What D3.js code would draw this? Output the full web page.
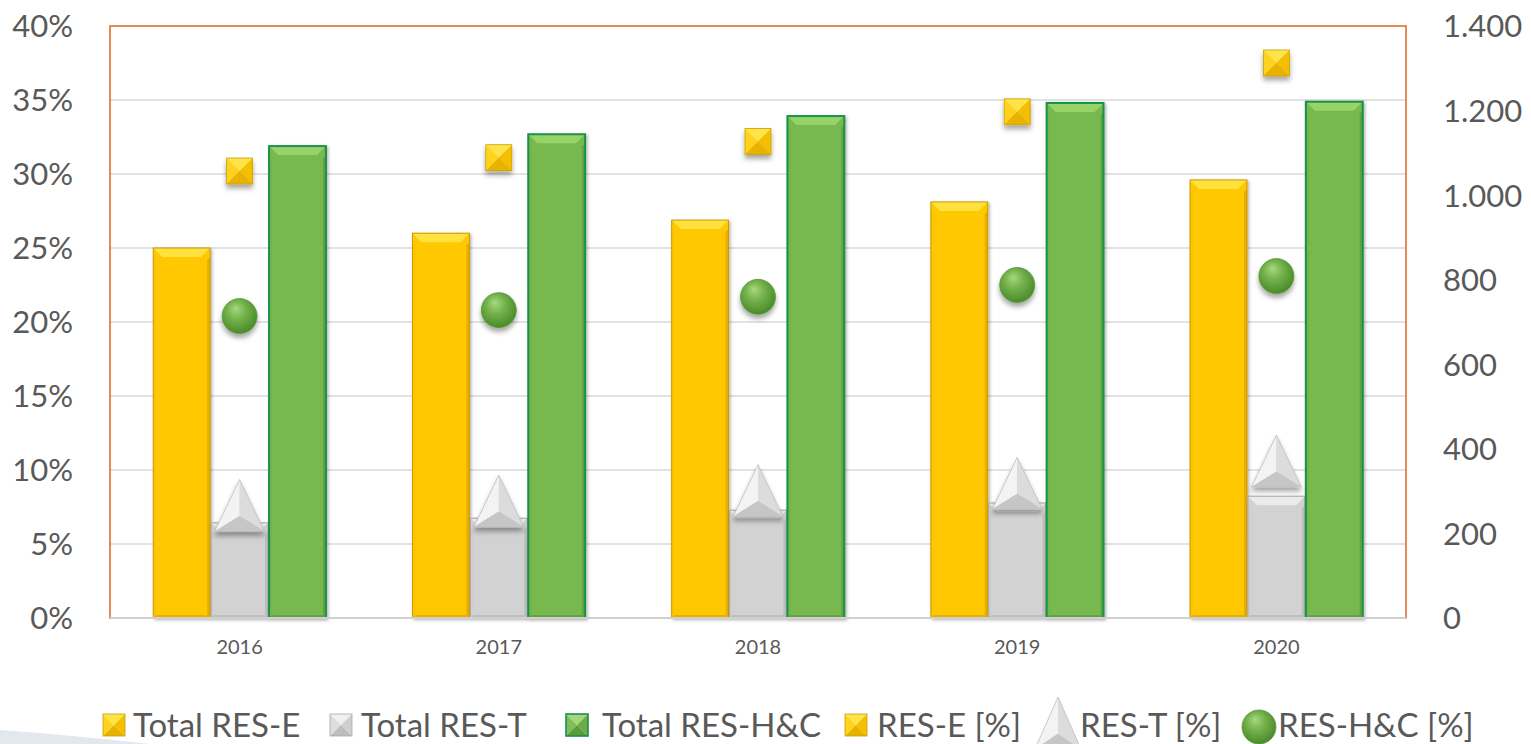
<!DOCTYPE html>
<html>
<head>
<meta charset="utf-8">
<script src="https://cdn.jsdelivr.net/npm/d3@7"></script>
<style>
  html, body { margin: 0; padding: 0; background: #ffffff; }
  svg { display: block; }
  text { font-family: Lato, "Open Sans", sans-serif; fill: #595959; }
</style>
</head>
<body>
<svg id="chart" width="1531" height="744"></svg>
<script>
// Renewable energy totals (right axis) and shares (left axis), 2016-2020
const years   = ["2016", "2017", "2018", "2019", "2020"];
const totalE  = [875, 910, 941, 984, 1036];
const totalT  = [225, 236, 255, 272, 288];
const totalHC = [1116, 1144, 1187, 1218, 1221];
const shareE  = [0.302, 0.311, 0.322, 0.342, 0.375];
const shareT  = [0.076, 0.079, 0.086, 0.091, 0.106];
const shareHC = [0.204, 0.208, 0.217, 0.225, 0.231];

const leftTicks  = [0, 0.05, 0.10, 0.15, 0.20, 0.25, 0.30, 0.35, 0.40];
const rightTicks = [0, 200, 400, 600, 800, 1000, 1200, 1400];
const legendLabels = ["Total RES-E", "Total RES-T", "Total RES-H&C", "RES-E [%]", "RES-T [%]", "RES-H&C [%]"];

const W = 1531, H = 744;
const margin = { top: 26, right: 125, bottom: 126, left: 110 };
const svg = d3.select("#chart");
const defs = svg.append("defs");

// soft shadows
const fBar = defs.append("filter").attr("id", "barShadow").attr("x", "-20%").attr("y", "-10%").attr("width", "140%").attr("height", "130%");
fBar.append("feDropShadow").attr("dx", 1.5).attr("dy", 1.5).attr("stdDeviation", 1.5).attr("flood-color", "#000").attr("flood-opacity", 0.3);
const fMark = defs.append("filter").attr("id", "markShadow").attr("x", "-40%").attr("y", "-40%").attr("width", "180%").attr("height", "200%");
fMark.append("feDropShadow").attr("dx", 0).attr("dy", 4).attr("stdDeviation", 2.5).attr("flood-color", "#000").attr("flood-opacity", 0.35);

const rg = defs.append("radialGradient").attr("id", "ballGreen").attr("cx", "45%").attr("cy", "40%").attr("r", "60%").attr("fx", "38%").attr("fy", "28%");
rg.append("stop").attr("offset", "0%").attr("stop-color", "#a8d882");
rg.append("stop").attr("offset", "45%").attr("stop-color", "#74b24b");
rg.append("stop").attr("offset", "100%").attr("stop-color", "#4a8a2a");

// bottom-left decorative swoosh
svg.append("path")
  .attr("d", "M0,730 Q70,735 150,744 L0,744 Z")
  .attr("fill", "#e3e7ee");

const x0 = d3.scaleBand().domain(years).range([margin.left, W - margin.right]).paddingInner(0.33).paddingOuter(0.165);
const series = ["E", "T", "HC"];
const x1 = d3.scaleBand().domain(series).range([0, x0.bandwidth()]).padding(0);
const yL = d3.scaleLinear().domain([0, 0.4]).range([H - margin.bottom, margin.top]);
const yR = d3.scaleLinear().domain([0, 1400]).range([H - margin.bottom, margin.top]);

const plotL = margin.left, plotR = W - margin.right, plotT = margin.top, plotB = H - margin.bottom;

// gridlines
svg.append("g").selectAll("line").data(leftTicks.filter(d => d > 0 && d < 0.4)).join("line")
  .attr("x1", plotL).attr("x2", plotR)
  .attr("y1", d => yL(d)).attr("y2", d => yL(d))
  .attr("stroke", "#d9d9d9").attr("stroke-width", 1.5);

// plot frame
svg.append("rect").attr("x", plotL).attr("y", plotT).attr("width", plotR - plotL).attr("height", plotB - plotT)
  .attr("fill", "none").attr("stroke", "#df6f2a").attr("stroke-width", 1.6);

// left axis
const axL = svg.append("g").attr("transform", `translate(${plotL},0)`)
  .call(d3.axisLeft(yL).tickValues(leftTicks).tickFormat(d3.format(".0%")).tickSize(0).tickPadding(37));
axL.select(".domain").remove();
axL.selectAll("text").attr("font-size", 31).attr("fill", "#595959").attr("dy", "0.35em");

// right axis with dot thousands separator
const loc = d3.formatLocale({ decimal: ",", thousands: ".", grouping: [3], currency: ["", ""] });
const axR = svg.append("g").attr("transform", `translate(${plotR},0)`)
  .call(d3.axisRight(yR).tickValues(rightTicks).tickFormat(loc.format(",")).tickSize(0).tickPadding(37));
axR.select(".domain").remove();
axR.selectAll("text").attr("font-size", 31).attr("fill", "#595959").attr("dy", "0.35em");

// bevelled bar
const barStyles = {
  E:  { base: "#ffc800", light: "#ffe23c", side: "#fcc500", dark: "#eaae00", stroke: "#c99a00", sw: 1 },
  T:  { base: "#d2d2d2", light: "#ebebeb", side: "#cfcfcf", dark: "#bdbdbd", stroke: "#a8a8a8", sw: 1 },
  HC: { base: "#77b84f", light: "#98d36a", side: "#73b44c", dark: "#62a23f", stroke: "#17924a", sw: 2 }
};
function bevelBar(g, x, y, w, h, s) {
  const b = Math.min(9, h / 2);
  const bs = 3;
  const grp = g.append("g").attr("filter", "url(#barShadow)");
  grp.append("rect").attr("x", x).attr("y", y).attr("width", w).attr("height", h).attr("fill", s.base);
  grp.append("polygon").attr("points", `${x},${y + b} ${x + bs},${y + b + bs} ${x + bs},${y + h - bs} ${x},${y + h}`).attr("fill", s.side);
  grp.append("polygon").attr("points", `${x + w},${y + b} ${x + w},${y + h} ${x + w - bs},${y + h - bs} ${x + w - bs},${y + b + bs}`).attr("fill", s.dark);
  grp.append("polygon").attr("points", `${x},${y + h} ${x + bs},${y + h - bs} ${x + w - bs},${y + h - bs} ${x + w},${y + h}`).attr("fill", s.dark);
  grp.append("polygon").attr("points", `${x},${y} ${x + w},${y} ${x + w - b},${y + b} ${x + b},${y + b}`).attr("fill", s.light);
  grp.append("rect").attr("x", x).attr("y", y).attr("width", w).attr("height", h)
    .attr("fill", "none").attr("stroke", s.stroke).attr("stroke-width", s.sw);
}

const barsG = svg.append("g");
const barData = { E: totalE, T: totalT, HC: totalHC };
years.forEach((yr, i) => {
  series.forEach(k => {
    const v = barData[k][i];
    const bx = x0(yr) + x1(k);
    bevelBar(barsG, bx + 0.5, yR(v), x1.bandwidth() - 1, yR(0) - yR(v), barStyles[k]);
  });
});

// category axis line and labels
svg.append("line").attr("x1", plotL).attr("x2", plotR).attr("y1", plotB).attr("y2", plotB)
  .attr("stroke", "#d0d0d0").attr("stroke-width", 2);
const axB = svg.append("g").attr("transform", `translate(0,${plotB})`)
  .call(d3.axisBottom(x0).tickSize(0).tickPadding(22));
axB.select(".domain").remove();
axB.selectAll("text").attr("font-size", 20).attr("fill", "#595959");

// marker shapes
function pyramidSquare(g, cx, cy, s, c, shadow) {
  const h = s / 2;
  const m = g.append("g").attr("transform", `translate(${cx},${cy})`);
  if (shadow) m.attr("filter", "url(#markShadow)");
  m.append("polygon").attr("points", `${-h},${-h} ${h},${-h} 0,0`).attr("fill", c[0]);
  m.append("polygon").attr("points", `${-h},${-h} 0,0 ${-h},${h}`).attr("fill", c[1]);
  m.append("polygon").attr("points", `${h},${-h} ${h},${h} 0,0`).attr("fill", c[2]);
  m.append("polygon").attr("points", `${-h},${h} 0,0 ${h},${h}`).attr("fill", c[3]);
  m.append("rect").attr("x", -h).attr("y", -h).attr("width", s).attr("height", s)
    .attr("fill", "none").attr("stroke", c[4]).attr("stroke-width", c[5]);
}
const yellowSq = ["#ffe447", "#ffd21c", "#f4bf00", "#e9b200", "#c9a000", 0.8];
const greySq   = ["#f0f0f0", "#dedede", "#cfcfcf", "#bdbdbd", "#a9a9a9", 0.8];
const greenSq  = ["#a3d77a", "#7fbf57", "#6cab45", "#5d9b3a", "#17924a", 1.6];

function triangleMarker(g, cx, cy, w, hgt, shadow) {
  const A = [0, -hgt / 2], B = [-w / 2, hgt / 2], C = [w / 2, hgt / 2], O = [0, hgt / 2 - hgt * 0.3];
  const m = g.append("g").attr("transform", `translate(${cx},${cy})`);
  if (shadow) m.attr("filter", "url(#markShadow)");
  const p = pts => pts.map(q => q.join(",")).join(" ");
  m.append("polygon").attr("points", p([A, B, O])).attr("fill", "#f3f3f3");
  m.append("polygon").attr("points", p([A, O, C])).attr("fill", "#dcdcdc");
  m.append("polygon").attr("points", p([B, C, O])).attr("fill", "#c6c6c6");
  m.append("polygon").attr("points", p([A, B, C])).attr("fill", "none").attr("stroke", "#bcbcbc").attr("stroke-width", 0.8);
}
function ballMarker(g, cx, cy, r, shadow) {
  const m = g.append("g").attr("transform", `translate(${cx},${cy})`);
  if (shadow) m.attr("filter", "url(#markShadow)");
  m.append("circle").attr("r", r).attr("fill", "url(#ballGreen)").attr("stroke", "#5b9a3a").attr("stroke-width", 0.8);
}

// share markers centred on each category
const markG = svg.append("g");
years.forEach((yr, i) => {
  const cx = x0(yr) + x0.bandwidth() / 2;
  triangleMarker(markG, cx, yL(shareT[i]), 50, 52, true);
  ballMarker(markG, cx, yL(shareHC[i]), 17.5, true);
  pyramidSquare(markG, cx, yL(shareE[i]), 26, yellowSq, true);
});

// legend
const legG = svg.append("g");
const legY = 725;
const legSymX = [103, 330, 566, 845, 1035, 1242];
const legTxtX = [133, 361, 602, 877, 1080, 1278];
pyramidSquare(legG, legSymX[0] + 11, legY, 22, yellowSq, false);
pyramidSquare(legG, legSymX[1] + 11, legY, 22, greySq, false);
pyramidSquare(legG, legSymX[2] + 11, legY, 22, greenSq, false);
pyramidSquare(legG, legSymX[3] + 11, legY, 22, yellowSq, false);
triangleMarker(legG, legSymX[4] + 23, 723, 46, 52, false);
ballMarker(legG, legSymX[5] + 17, 727, 17, false);
legendLabels.forEach((t, i) => {
  legG.append("text").attr("x", legTxtX[i]).attr("y", legY).attr("dy", "0.35em")
    .attr("font-size", 33).attr("fill", "#595959").text(t);
});
</script>
</body>
</html>
